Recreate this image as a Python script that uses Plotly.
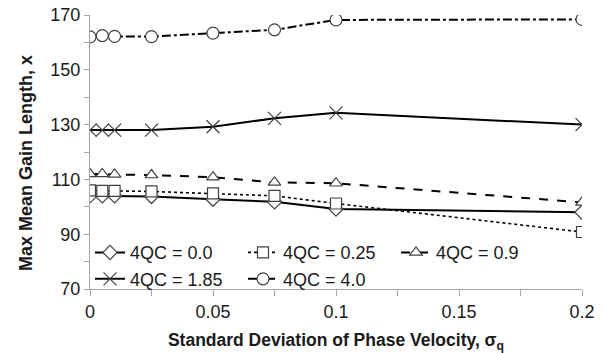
import plotly.graph_objects as go

sigma = [0, 0.005, 0.01, 0.025, 0.05, 0.075, 0.1, 0.2]
qc_0_0 = [104, 104, 104, 103.8, 102.8, 101.8, 99.2, 98]
qc_0_25 = [106, 105.8, 105.8, 105.6, 104.9, 104, 101.2, 90.8]
qc_0_9 = [112, 112, 111.8, 111.6, 110.8, 108.9, 108.6, 101.6]
qc_1_85 = [128, 128, 128, 128, 129.2, 132.3, 134.3, 130]
qc_4_0 = [162, 162.5, 162.2, 162.1, 163.4, 164.6, 168.2, 168.4]

names = ["4QC = 0.0", "4QC = 0.25", "4QC = 0.9", "4QC = 1.85", "4QC = 4.0"]
series = [qc_0_0, qc_0_25, qc_0_9, qc_1_85, qc_4_0]
symbols = ["diamond", "square", "triangle-up", "x-thin", "circle"]
dashes = ["solid", "dot", "dash", "solid", "dashdot"]
widths = [2, 1.6, 2, 2, 2]
sizes = [11, 11, 11, 13, 12]

fig = go.Figure()
for nm, ys, sym, ds, lw, sz in zip(names, series, symbols, dashes, widths, sizes):
    fig.add_trace(go.Scatter(
        x=sigma, y=ys, name=nm, mode="lines+markers",
        line=dict(color="black", width=lw, dash=ds),
        marker=dict(symbol=sym, size=sz, color="white",
                    line=dict(color="#404040", width=1.2)),
    ))

fig.update_layout(
    width=604, height=353,
    margin=dict(l=90, r=22, t=15, b=64),
    plot_bgcolor="white", paper_bgcolor="white",
    font=dict(family="Liberation Sans, Arial, sans-serif", size=18, color="#1a1a1a"),
    showlegend=True,
    legend=dict(orientation="h", x=0, y=0.2, xanchor="left", yanchor="top",
                entrywidth=108, bgcolor="rgba(0,0,0,0)",
                font=dict(size=18), traceorder="normal"),
    xaxis=dict(range=[0, 0.2], dtick=0.05, tick0=0, showgrid=False, zeroline=False,
               showline=True, linecolor="#a6a6a6", linewidth=1, automargin=False,
               ticks="outside", ticklen=6, tickcolor="#a6a6a6",
               minor=dict(dtick=0.025, ticks="outside", ticklen=6, tickcolor="#a6a6a6"),
               title=dict(text="<b>Standard Deviation of Phase Velocity, σ<sub>q</sub></b>",
                          font=dict(size=17.5), standoff=13)),
    yaxis=dict(range=[70, 170], dtick=20, tick0=70, showgrid=False, zeroline=False,
               showline=True, linecolor="#a6a6a6", linewidth=1, automargin=False,
               ticks="outside", ticklen=5, tickcolor="#a6a6a6",
               minor=dict(dtick=10, ticks="outside", ticklen=5, tickcolor="#a6a6a6")),
    annotations=[dict(text="<b>Max Mean Gain Length, x</b>", textangle=-90,
                      xref="paper", yref="paper", x=-0.13, y=0.46,
                      xanchor="center", yanchor="middle", showarrow=False,
                      font=dict(size=18))],
)

fig.write_html("out.html")
